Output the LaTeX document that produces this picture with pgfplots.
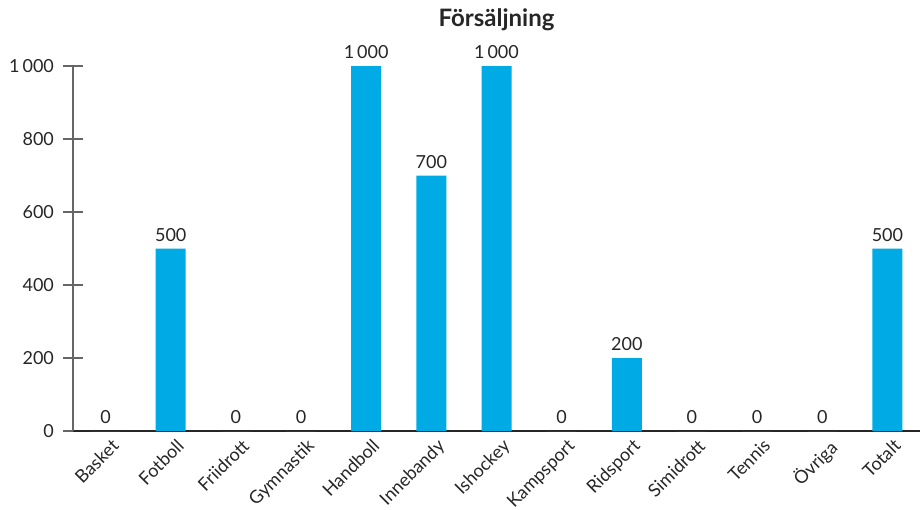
\documentclass[border=0pt]{standalone}
\usepackage{pgfplots}
\pgfplotsset{compat=1.18}
\usepackage{fontspec}
\setmainfont{Lato}
\definecolor{barblue}{HTML}{00AAE4}
\definecolor{axgray}{HTML}{666666}
\definecolor{txt}{HTML}{262626}
\begin{document}
\begin{tikzpicture}
\useasboundingbox (-36.5pt,-39pt) rectangle (423.5pt,215.5pt);
\begin{axis}[
  at={(0,0)}, anchor=south west,
  scale only axis, width=423.5pt, height=182.5pt,
  xmin=-0.5, xmax=12.5, ymin=0, ymax=1000,
  clip=false,
  axis x line=bottom, axis y line=left,
  x axis line style={-, draw=black!85, line width=0.6pt},
  y axis line style={-, draw=axgray, line width=0.6pt},
  ytick={0,200,400,600,800,1000},
  tick align=center, major tick length=10pt,
  y tick style={draw=axgray, line width=0.6pt},
  x tick style={draw=none},
  xtick={0,...,12},
  xticklabels={Basket,Fotboll,Friidrott,Gymnastik,Handboll,Innebandy,Ishockey,Kampsport,Ridsport,Simidrott,Tennis,Övriga,Totalt},
  xticklabel style={xshift=2.5pt, yshift=11.5pt, rotate=45, anchor=north east, font=\fontsize{9}{10}\selectfont, text=txt},
  yticklabel style={font=\fontsize{9}{10}\selectfont, text=txt, xshift=-1pt},
  /pgf/number format/.cd, 1000 sep={\,}, assume math mode=true,
  /pgfplots/.cd,
  ybar, bar width=15pt,
  nodes near coords,
  every node near coord/.append style={font=\fontsize{9}{10}\selectfont, text=txt, /pgf/number format/1000 sep={\,}, /pgf/number format/assume math mode=true},
  title={Försäljning},
  title style={at={(0.5,1)}, anchor=center, yshift=17pt, font=\fontsize{12}{14}\selectfont\bfseries, text=txt},
]
\addplot[fill=barblue, draw=none, bar shift=0pt] coordinates {
(0,0) (1,500) (2,0) (3,0) (4,1000) (5,700) (6,1000) (7,0) (8,200) (9,0) (10,0) (11,0) (12,500)
};
\end{axis}
\end{tikzpicture}
\end{document}
